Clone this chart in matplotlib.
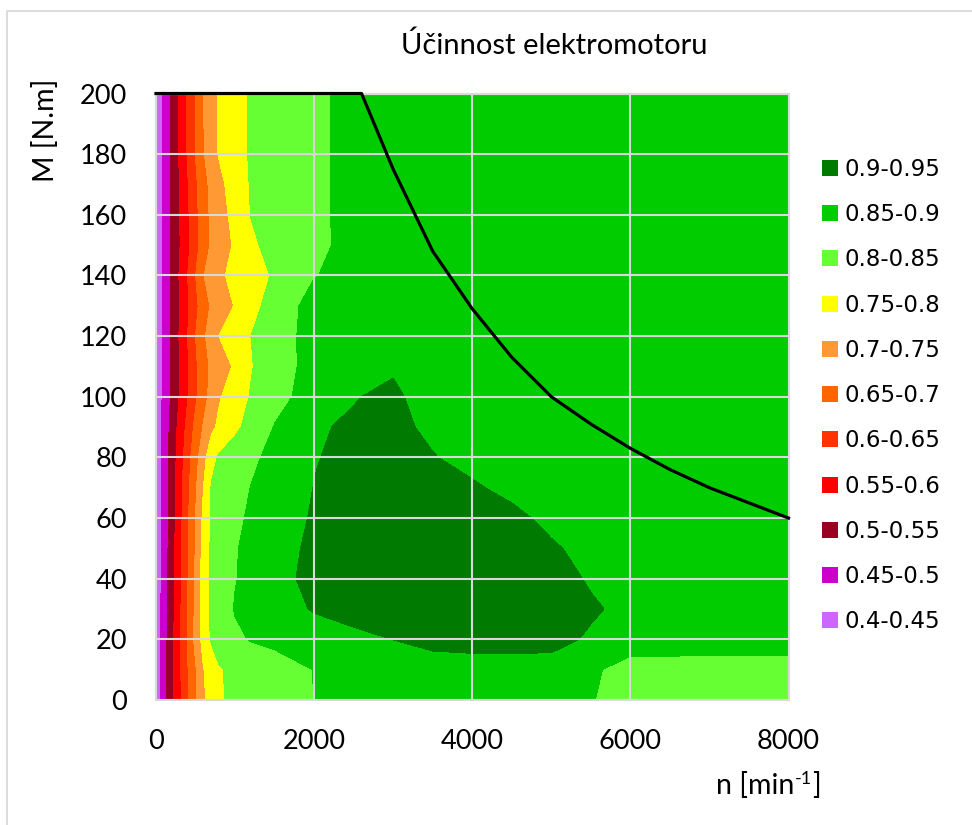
import numpy as np
import matplotlib.pyplot as plt
from matplotlib.patches import Patch
from matplotlib.lines import Line2D

# otáčky [min-1] a moment [N.m] - síť bodů mapy
N_RPM = [0, 100, 200, 300, 400, 500, 600, 700, 800, 1000, 1200, 1500,
         2000, 2500, 3000, 3500, 4000, 4500, 5000, 5500, 6000, 7000, 8000]
M_NM = [0, 10, 20, 30, 40, 50, 60, 70, 80, 90, 100,
        110, 120, 130, 140, 150, 160, 170, 180, 190, 200]

# účinnost, řádky od M=0 nahoru
EFF = [
    [0.418, 0.477, 0.536, 0.590, 0.643, 0.691, 0.742, 0.771, 0.796, 0.808, 0.816, 0.829, 0.8502, 0.860, 0.865, 0.868, 0.870, 0.870, 0.866, 0.855, 0.810, 0.810, 0.810],
    [0.418, 0.477, 0.536, 0.592, 0.647, 0.695, 0.748, 0.773, 0.797, 0.808, 0.816, 0.829, 0.851, 0.865, 0.875, 0.884, 0.886, 0.886, 0.885, 0.855, 0.838, 0.840, 0.840],
    [0.418, 0.477, 0.536, 0.595, 0.655, 0.714, 0.770, 0.805, 0.817, 0.841, 0.853, 0.861, 0.875, 0.890, 0.9005, 0.910, 0.912, 0.912, 0.912, 0.895, 0.865, 0.862, 0.862],
    [0.415, 0.474, 0.532, 0.591, 0.650, 0.711, 0.772, 0.809, 0.826, 0.853, 0.863, 0.878, 0.904, 0.915, 0.920, 0.922, 0.922, 0.920, 0.915, 0.905, 0.890, 0.882, 0.880],
    [0.410, 0.470, 0.529, 0.588, 0.647, 0.708, 0.773, 0.807, 0.821, 0.848, 0.863, 0.886, 0.912, 0.922, 0.928, 0.930, 0.930, 0.925, 0.915, 0.896, 0.885, 0.882, 0.880],
    [0.410, 0.470, 0.528, 0.585, 0.644, 0.703, 0.769, 0.807, 0.820, 0.847, 0.861, 0.881, 0.910, 0.922, 0.928, 0.930, 0.928, 0.922, 0.905, 0.888, 0.885, 0.882, 0.879],
    [0.410, 0.470, 0.526, 0.583, 0.642, 0.701, 0.761, 0.805, 0.816, 0.840, 0.857, 0.875, 0.905, 0.920, 0.925, 0.925, 0.920, 0.910, 0.890, 0.886, 0.883, 0.880, 0.877],
    [0.412, 0.469, 0.524, 0.580, 0.638, 0.692, 0.750, 0.803, 0.813, 0.832, 0.851, 0.869, 0.901, 0.915, 0.920, 0.915, 0.905, 0.890, 0.886, 0.883, 0.880, 0.877, 0.875],
    [0.414, 0.468, 0.522, 0.574, 0.630, 0.681, 0.732, 0.785, 0.806, 0.824, 0.841, 0.863, 0.898, 0.910, 0.915, 0.902, 0.888, 0.885, 0.882, 0.880, 0.877, 0.874, 0.872],
    [0.413, 0.466, 0.518, 0.567, 0.615, 0.663, 0.704, 0.739, 0.760, 0.790, 0.816, 0.852, 0.896, 0.905, 0.910, 0.892, 0.885, 0.882, 0.880, 0.877, 0.875, 0.872, 0.870],
    [0.414, 0.461, 0.509, 0.554, 0.598, 0.642, 0.682, 0.716, 0.746, 0.776, 0.803, 0.835, 0.869, 0.898, 0.908, 0.880, 0.878, 0.876, 0.874, 0.872, 0.870, 0.868, 0.865],
    [0.414, 0.461, 0.508, 0.550, 0.595, 0.641, 0.681, 0.708, 0.724, 0.757, 0.797, 0.826, 0.868, 0.886, 0.895, 0.878, 0.876, 0.874, 0.872, 0.870, 0.868, 0.866, 0.864],
    [0.414, 0.461, 0.509, 0.555, 0.600, 0.650, 0.692, 0.723, 0.751, 0.776, 0.800, 0.827, 0.868, 0.880, 0.885, 0.877, 0.875, 0.873, 0.871, 0.869, 0.867, 0.865, 0.863],
    [0.414, 0.461, 0.508, 0.550, 0.593, 0.637, 0.677, 0.706, 0.722, 0.753, 0.784, 0.821, 0.868, 0.878, 0.882, 0.876, 0.875, 0.873, 0.871, 0.870, 0.868, 0.866, 0.864],
    [0.414, 0.461, 0.509, 0.555, 0.600, 0.650, 0.698, 0.721, 0.742, 0.763, 0.780, 0.805, 0.848, 0.866, 0.877, 0.875, 0.874, 0.872, 0.871, 0.869, 0.868, 0.866, 0.864],
    [0.414, 0.461, 0.508, 0.548, 0.588, 0.632, 0.674, 0.706, 0.723, 0.757, 0.793, 0.813, 0.839, 0.864, 0.875, 0.874, 0.873, 0.872, 0.870, 0.869, 0.867, 0.865, 0.864],
    [0.414, 0.461, 0.508, 0.550, 0.592, 0.636, 0.678, 0.709, 0.728, 0.767, 0.801, 0.815, 0.840, 0.864, 0.874, 0.874, 0.872, 0.871, 0.870, 0.868, 0.866, 0.865, 0.863],
    [0.414, 0.461, 0.508, 0.552, 0.596, 0.641, 0.682, 0.713, 0.736, 0.776, 0.803, 0.817, 0.840, 0.864, 0.873, 0.873, 0.872, 0.870, 0.869, 0.867, 0.866, 0.864, 0.863],
    [0.414, 0.461, 0.509, 0.556, 0.604, 0.651, 0.696, 0.728, 0.754, 0.784, 0.804, 0.818, 0.840, 0.864, 0.873, 0.872, 0.871, 0.870, 0.868, 0.867, 0.865, 0.864, 0.862],
    [0.414, 0.461, 0.509, 0.556, 0.604, 0.651, 0.698, 0.732, 0.757, 0.786, 0.804, 0.818, 0.840, 0.864, 0.872, 0.872, 0.870, 0.869, 0.868, 0.866, 0.865, 0.863, 0.862],
    [0.414, 0.461, 0.509, 0.556, 0.604, 0.651, 0.698, 0.732, 0.757, 0.786, 0.804, 0.818, 0.840, 0.864, 0.872, 0.872, 0.870, 0.869, 0.868, 0.866, 0.865, 0.863, 0.862],
]

# mezní charakteristika (max. moment)
N_LIM = [0, 2600, 3000, 3500, 4000, 4500, 5000, 5500, 6000, 6500, 7000, 7500, 8000]
M_LIM = [200, 200, 175, 148, 129, 113, 100, 91, 83, 76, 70, 65, 60]

LEVELS = [0.4, 0.45, 0.5, 0.55, 0.6, 0.65, 0.7, 0.75, 0.8, 0.85, 0.9, 0.95]
LABELS = ['0.4-0.45', '0.45-0.5', '0.5-0.55', '0.55-0.6', '0.6-0.65', '0.65-0.7',
          '0.7-0.75', '0.75-0.8', '0.8-0.85', '0.85-0.9', '0.9-0.95']
COLORS = ['#cc66ff', '#cc00cc', '#990022', '#ff0000', '#ff3300', '#ff6600',
          '#ff9933', '#ffff00', '#66ff33', '#00cc00', '#007a00']

plt.rcParams['font.family'] = 'Lato'

W, H = 972, 825
F = 19.5
fig = plt.figure(figsize=(W/100, H/100), dpi=100)

# rámeček grafu (pravý a dolní okraj jsou mimo obrázek)
fig.add_artist(Line2D([7/W, 7/W, 1], [0, 1-11/H, 1-11/H], transform=fig.transFigure,
                      color='#d9d9d9', lw=1.3))

ax = fig.add_axes([156/W, 1-700/H, 632.5/W, 606.5/H])
ax.contourf(N_RPM, M_NM, np.array(EFF), levels=LEVELS, colors=COLORS)
ax.plot(N_LIM, M_LIM, color='black', lw=2.3, zorder=4, clip_on=False)

ax.set_xlim(0, 8000)
ax.set_ylim(0, 200)
ax.set_xticks(range(0, 8001, 2000))
ax.set_yticks(range(0, 201, 20))
ax.set_axisbelow(False)
ax.grid(True, color='#d9d9d9', lw=1.5)
ax.tick_params(length=0, labelsize=F)
ax.tick_params(axis='y', pad=21)
ax.tick_params(axis='x', pad=21)
for s in ax.spines.values():
    s.set_color('#d9d9d9')
    s.set_linewidth(1.5)

fig.text(554/W, 1-45/H, 'Účinnost elektromotoru', ha='center', va='center', fontsize=21)
fig.text(46/W, 1-130/H, 'M [N.m]', rotation=90, ha='center', va='center', fontsize=F + 1)

# popis osy x s horním indexem
r = fig.canvas.get_renderer()
yb = 1 - 794/H
t1 = fig.text(0, yb, 'n [min', fontsize=F + 1, va='baseline')
t2 = fig.text(0, yb + 10/H, '-1', fontsize=13, va='baseline')
t3 = fig.text(0, yb, ']', fontsize=F + 1, va='baseline')
w1 = t1.get_window_extent(r).width
w2 = t2.get_window_extent(r).width
w3 = t3.get_window_extent(r).width
x0 = 821 - (w1 + w2 + w3 + 1)
t1.set_x(x0/W)
t2.set_x((x0 + w1 + 1)/W)
t3.set_x((x0 + w1 + w2 + 1)/W)

handles = [Patch(facecolor=c, edgecolor='none') for c in COLORS[::-1]]
fig.legend(handles, LABELS[::-1], loc='upper left', bbox_to_anchor=(822/W, 1-158/H),
           frameon=False, prop={'family': 'DejaVu Sans', 'size': 16.5},
           borderpad=0, borderaxespad=0,
           handlelength=0.7, handleheight=0.7, handletextpad=0.3, labelspacing=0.97)

fig.savefig('out.png', dpi=100)
